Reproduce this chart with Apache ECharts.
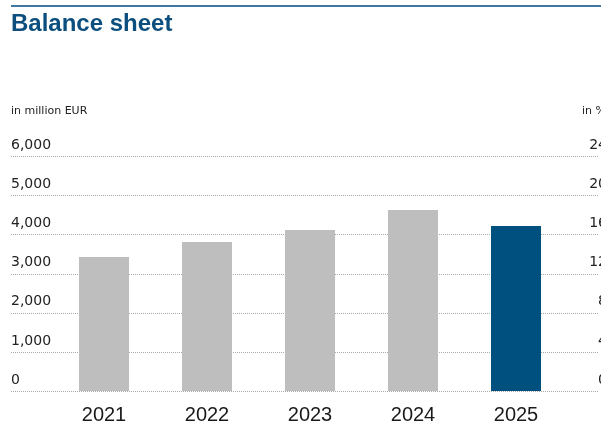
<!DOCTYPE html>
<html>
<head>
<meta charset="utf-8">
<script src="https://cdn.jsdelivr.net/npm/echarts@6/dist/echarts.min.js"></script>
<style>
  html, body { margin: 0; padding: 0; background: #fff; }
  #chart { width: 601px; height: 423px; }
</style>
</head>
<body>
<div id="chart"></div>
<script>
// Balance sheet total per year, in million EUR
const years = ['2021', '2022', '2023', '2024', '2025'];
const balanceTotal = [3430, 3810, 4120, 4630, 4220];
const leftTicks = { min: 0, max: 6000, interval: 1000 };
const rightTicks = { min: 0, max: 24, interval: 4 };

const GREY = '#bdbebd';
const BLUE = '#00507f';
const TITLE = '#0c4f7f';
const GRID_LINE = '#a8a8a8';

const chart = echarts.init(document.getElementById('chart'), null, { renderer: 'canvas' });

const plotTop = 156.5;
const plotHeight = 234.5;

chart.setOption({
  animation: false,
  backgroundColor: '#fff',
  graphic: [
    { type: 'rect', shape: { x: 11, y: 5, width: 590, height: 2 }, style: { fill: '#3f77a3' } },
    { type: 'text', left: 11, top: 12, style: { text: 'Balance sheet', font: 'bold 24px "Liberation Sans", Arial, sans-serif', fill: TITLE } },
    { type: 'text', left: 11, top: 106, style: { text: 'in million EUR', font: '11px "DejaVu Sans", sans-serif', fill: '#222' } },
    { type: 'text', left: 582, top: 106, style: { text: 'in %', font: '11px "DejaVu Sans", sans-serif', fill: '#222' } }
  ],
  grid: [
    { left: 11, right: 3, top: plotTop, height: plotHeight, outerBoundsMode: 'none', containLabel: false },
    { left: 52.5, width: 515, top: plotTop, height: plotHeight, outerBoundsMode: 'none', containLabel: false }
  ],
  xAxis: [
    { type: 'category', gridIndex: 0, data: years, show: false },
    {
      type: 'category', gridIndex: 1, data: years,
      axisLine: { show: false }, axisTick: { show: false },
      axisLabel: { fontSize: 20, fontFamily: '"Liberation Sans", Arial, sans-serif', color: '#1a1a1a', margin: 14 }
    }
  ],
  yAxis: [
    {
      type: 'value', gridIndex: 0, position: 'left',
      min: leftTicks.min, max: leftTicks.max, interval: leftTicks.interval,
      axisLine: { show: false }, axisTick: { show: false },
      splitLine: { show: true, lineStyle: { color: GRID_LINE, type: [1, 1], width: 1 } },
      axisLabel: {
        inside: true, margin: 0, align: 'left', verticalAlign: 'bottom',
        padding: [0, 0, 4, 0],
        fontSize: 14, fontFamily: '"DejaVu Sans", sans-serif', color: '#222',
        formatter: v => v.toLocaleString('en-US')
      }
    },
    {
      type: 'value', gridIndex: 0, position: 'right',
      min: rightTicks.min, max: rightTicks.max, interval: rightTicks.interval,
      axisLine: { show: false }, axisTick: { show: false }, splitLine: { show: false },
      axisLabel: {
        margin: 9, align: 'right', verticalAlign: 'bottom',
        padding: [0, 0, 4, 0],
        fontSize: 14, fontFamily: '"DejaVu Sans", sans-serif', color: '#222'
      }
    },
    {
      type: 'value', gridIndex: 1, show: false,
      min: leftTicks.min, max: leftTicks.max, interval: leftTicks.interval,
      splitLine: { show: false }
    }
  ],
  series: [
    {
      type: 'bar', xAxisIndex: 1, yAxisIndex: 2, barWidth: 50,
      data: balanceTotal.map((v, i) => ({
        value: v,
        itemStyle: { color: i === balanceTotal.length - 1 ? BLUE : GREY }
      })),
      z: 3
    }
  ]
});
</script>
</body>
</html>
